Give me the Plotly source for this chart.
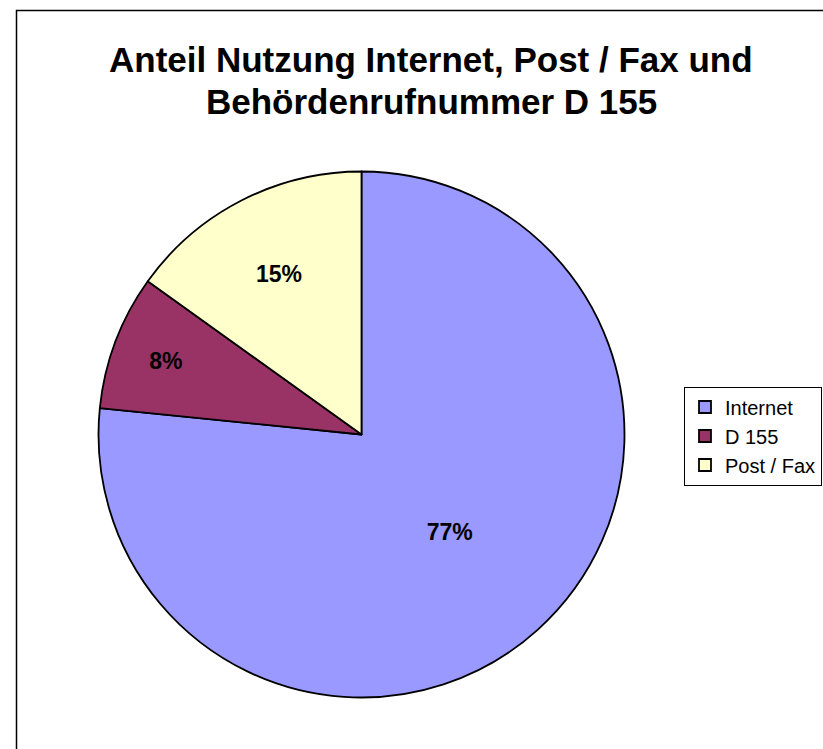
import plotly.graph_objects as go

W, H = 823, 749

labels = ["Internet", "D 155", "Post / Fax"]
values = [76.6, 8.3, 15.1]
colors = ["#9999FF", "#993366", "#FFFFCC"]
title_lines = ["Anteil Nutzung Internet, Post / Fax und", "Behördenrufnummer D 155"]

font_family = "Liberation Sans, Arial, sans-serif"

cx, cy, r = 361.5, 434.5, 263

fig = go.Figure(
    go.Pie(
        labels=labels,
        values=values,
        sort=False,
        direction="clockwise",
        rotation=0,
        marker=dict(colors=colors, line=dict(color="black", width=1.8)),
        textinfo="percent",
        texttemplate="%{percent:.0%}",
        textposition="inside",
        insidetextorientation="horizontal",
        textfont=dict(family=font_family, size=23, color="black", weight="bold"),
        hoverinfo="label+percent",
        domain=dict(x=[(cx - r) / W, (cx + r) / W], y=[(H - cy - r) / H, (H - cy + r) / H]),
    )
)

annotations = []
for i, t in enumerate(title_lines):
    annotations.append(dict(
        text="<b>%s</b>" % t, x=431 / W, y=1 - (59 + i * 43) / H,
        xref="paper", yref="paper", xanchor="center", yanchor="middle",
        showarrow=False, font=dict(family=font_family, size=35, color="black"),
    ))

fig.update_layout(
    width=W, height=H, autosize=False,
    margin=dict(l=0, r=0, t=0, b=0, autoexpand=False),
    paper_bgcolor="white", plot_bgcolor="white",
    showlegend=True,
    legend=dict(
        x=684 / W, y=1 - 436 / H, xanchor="left", yanchor="middle",
        bordercolor="black", borderwidth=1, bgcolor="white",
        font=dict(family=font_family, size=20, color="black"),
        itemwidth=30,
    ),
    annotations=annotations,
    shapes=[dict(type="rect", xref="paper", yref="paper",
                 x0=16.5 / W, y0=-0.05, x1=1.05, y1=1 - 10.5 / H,
                 line=dict(color="black", width=1.5), fillcolor="rgba(0,0,0,0)")],
)

fig.write_html(
    "out.html",
    config={"responsive": False, "displayModeBar": False},
    post_script=(
        "document.body.style.margin='0px';"
        "document.body.style.overflow='hidden';"
        "Plotly.relayout('{plot_id}', {width: %d, height: %d});" % (W, H)
    ),
)
